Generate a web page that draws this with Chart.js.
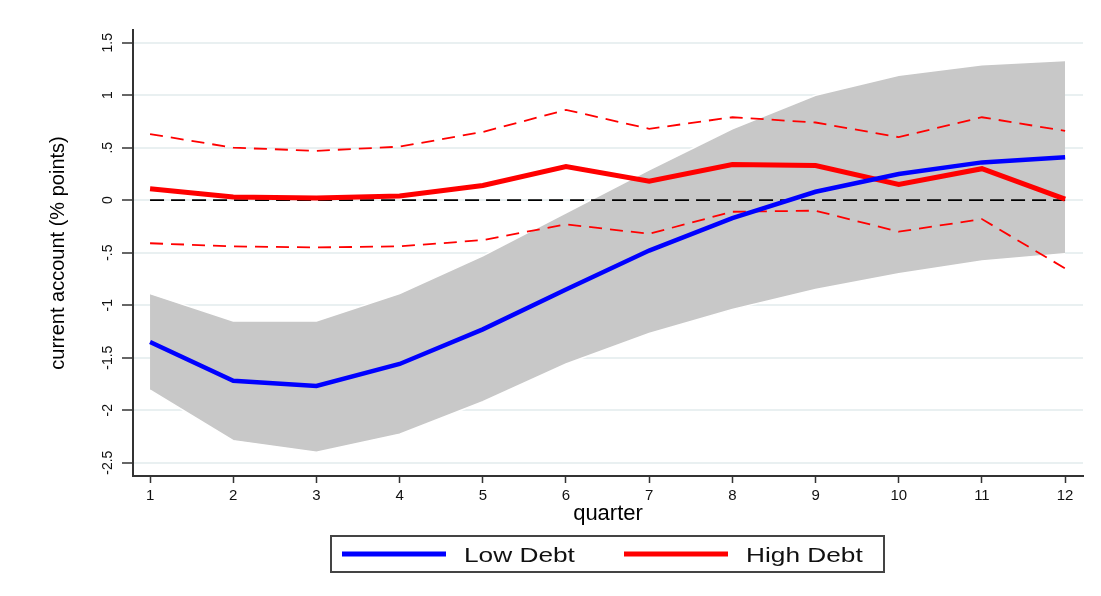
<!DOCTYPE html>
<html>
<head>
<meta charset="utf-8">
<script src="https://cdn.jsdelivr.net/npm/chart.js@4.4.1/dist/chart.umd.min.js"></script>
<style>
  html, body { margin: 0; padding: 0; background: #fff; }
  #wrap { width: 1101px; height: 596px; }
</style>
</head>
<body>
<div id="wrap"><canvas id="caChart" width="1101" height="596"></canvas></div>
<script>
// quarters after the shock
const quarters = [1, 2, 3, 4, 5, 6, 7, 8, 9, 10, 11, 12];

// low debt: point estimate and shaded band
const lowDebt  = [-1.35, -1.72, -1.77, -1.56, -1.23, -0.85, -0.48, -0.17, 0.08, 0.25, 0.36, 0.41];
const lowUpper = [-0.89, -1.15, -1.15, -0.89, -0.53, -0.12, 0.29, 0.68, 1.00, 1.19, 1.29, 1.33];
const lowLower = [-1.81, -2.29, -2.40, -2.23, -1.92, -1.56, -1.27, -1.04, -0.85, -0.70, -0.58, -0.51];

// high debt: point estimate and dashed bands
const highDebt  = [0.11, 0.03, 0.02, 0.04, 0.14, 0.32, 0.18, 0.34, 0.33, 0.15, 0.30, 0.01];
const highUpper = [0.63, 0.50, 0.47, 0.51, 0.65, 0.86, 0.68, 0.79, 0.74, 0.60, 0.79, 0.66];
const highLower = [-0.41, -0.44, -0.45, -0.44, -0.38, -0.23, -0.32, -0.11, -0.10, -0.30, -0.18, -0.65];

const zeroLine = [0, 0, 0, 0, 0, 0, 0, 0, 0, 0, 0, 0];

// y axis ticks, Stata style labels
const yTickValues = [-2.5, -2, -1.5, -1, -0.5, 0, 0.5, 1, 1.5];
const yTickLabels = ['-2.5', '-2', '-1.5', '-1', '-.5', '0', '.5', '1', '1.5'];

const legendNames = ['Low Debt', 'High Debt'];

function pts(arr) {
    return quarters.map((q, i) => ({ x: q, y: arr[i] }));
}

Chart.defaults.font.family = '"Liberation Sans", Arial, sans-serif';

// boxed legend like the Stata one
const boxLegend = {
    id: 'boxLegend',
    afterDraw(chart) {
        const ctx = chart.ctx;
        const lineStarts = [342, 624];
        ctx.save();
        ctx.strokeStyle = '#444';
        ctx.lineWidth = 2;
        ctx.strokeRect(331, 536, 553, 36);
        ctx.font = '21px "Liberation Sans", Arial, sans-serif';
        ctx.textBaseline = 'alphabetic';
        legendNames.forEach(function(name, i) {
            const ds = chart.data.datasets.find(d => d.label === name);
            const x0 = lineStarts[i];
            ctx.strokeStyle = ds.borderColor;
            ctx.lineWidth = 5;
            ctx.beginPath();
            ctx.moveTo(x0, 554);
            ctx.lineTo(x0 + 104, 554);
            ctx.stroke();
            ctx.fillStyle = '#111';
            ctx.save();
            ctx.translate(x0 + 122, 561.5);
            ctx.scale(1.25, 1);
            ctx.fillText(name, 0, 0);
            ctx.restore();
        });
        ctx.restore();
    }
};

const ctx = document.getElementById('caChart');
const caChart = new Chart(ctx, {
    type: 'line',
    data: {
        datasets: [
            { label: 'Low Debt', data: pts(lowDebt), borderColor: '#0000ff', borderWidth: 4.5, order: 1 },
            { label: 'High Debt', data: pts(highDebt), borderColor: '#ff0000', borderWidth: 5, order: 2 },
            { label: 'High Debt upper', data: pts(highUpper), borderColor: '#ff0000', borderWidth: 1.8, borderDash: [13, 8], order: 3 },
            { label: 'High Debt lower', data: pts(highLower), borderColor: '#ff0000', borderWidth: 1.8, borderDash: [13, 8], order: 4 },
            { label: 'zero', data: pts(zeroLine), borderColor: '#000000', borderWidth: 1.8, borderDash: [14, 7], order: 5 },
            { label: 'Low Debt upper', data: pts(lowUpper), borderColor: '#ffffff', borderWidth: 1.5,
              backgroundColor: '#c8c8c8', fill: '+1', order: 6 },
            { label: 'Low Debt lower', data: pts(lowLower), borderColor: '#ffffff', borderWidth: 1.5, order: 7 }
        ]
    },
    options: {
        responsive: false,
        animation: false,
        elements: {
            point: { radius: 0, hoverRadius: 0 },
            line: { tension: 0, fill: false }
        },
        layout: { padding: { top: 30, right: 18, bottom: 65, left: 0 } },
        scales: {
            x: {
                type: 'linear',
                min: 0.795,
                max: 12.215,
                afterBuildTicks: function(scale) {
                    scale.ticks = quarters.map(q => ({ value: q }));
                },
                afterFit: function(scale) { scale.height = 55; },
                ticks: { padding: 4, color: '#111', font: { size: 15 }, minRotation: 0, maxRotation: 0, autoSkip: false },
                grid: { drawOnChartArea: false, tickLength: 7, tickColor: '#333', tickWidth: 1.5 },
                border: { display: true, color: '#333', width: 2 },
                title: { display: true, text: 'quarter', color: '#000', font: { size: 22 }, padding: { top: 0, bottom: 4 } }
            },
            y: {
                type: 'linear',
                min: -2.627,
                max: 1.621,
                afterBuildTicks: function(scale) {
                    scale.ticks = yTickValues.map(v => ({ value: v }));
                },
                afterFit: function(scale) { scale.width = 133; },
                ticks: {
                    minRotation: 90,
                    maxRotation: 90,
                    crossAlign: 'center',
                    padding: 2,
                    color: '#111',
                    font: { size: 14 },
                    callback: function(value) {
                        return yTickLabels[yTickValues.indexOf(value)];
                    }
                },
                grid: { color: '#e9f0f1', lineWidth: 2, tickLength: 11, tickColor: '#333', tickWidth: 1.5 },
                border: { display: true, color: '#333', width: 2 },
                title: { display: true, text: 'current account (% points)', color: '#000', font: { size: 20 }, padding: { top: 46, bottom: 0 } }
            }
        },
        plugins: {
            legend: { display: false },
            tooltip: { enabled: false },
            filler: { drawTime: 'beforeDatasetsDraw' }
        }
    },
    plugins: [boxLegend]
});
</script>
</body>
</html>
